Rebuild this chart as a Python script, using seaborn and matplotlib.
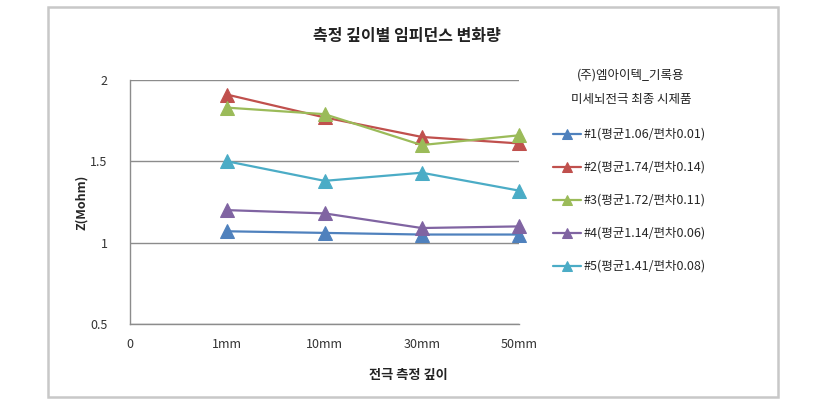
import pandas as pd
import matplotlib.pyplot as plt
import seaborn as sns
from matplotlib.patches import Rectangle

# 측정 깊이별 임피던스 데이터
depths = ['1mm', '10mm', '30mm', '50mm']
tick_labels = ['0', '1mm', '10mm', '30mm', '50mm']
series_names = ['#1(평균1.06/편차0.01)', '#2(평균1.74/편차0.14)', '#3(평균1.72/편차0.11)',
                '#4(평균1.14/편차0.06)', '#5(평균1.41/편차0.08)']
s1 = [1.07, 1.06, 1.05, 1.05]
s2 = [1.91, 1.77, 1.65, 1.61]
s3 = [1.83, 1.79, 1.60, 1.66]
s4 = [1.20, 1.18, 1.09, 1.10]
s5 = [1.50, 1.38, 1.43, 1.32]
colors = ['#4F81BD', '#C0504D', '#9BBB59', '#8064A2', '#4BACC6']

rows = []
for name, vals in zip(series_names, [s1, s2, s3, s4, s5]):
    for i, v in enumerate(vals):
        rows.append({'pos': i + 1, 'depth': depths[i], 'Z': v, 'series': name})
df = pd.DataFrame(rows)

sns.set_style('white')
plt.rcParams['font.family'] = ['Noto Sans CJK KR', 'DejaVu Sans']

fig = plt.figure(figsize=(8.27, 4.15), dpi=100)
ax = fig.add_axes([130 / 827, 1 - 324 / 415, (519 - 130) / 827, (324 - 80) / 415])

sns.lineplot(data=df, x='pos', y='Z', hue='series', palette=colors,
             marker='^', markersize=10, markeredgecolor=None, linewidth=1.6,
             ax=ax, legend=True)
for ln in ax.lines:
    ln.set_clip_on(False)

ax.set_xlim(0, 4)
ax.set_ylim(0.5, 2)
ax.set_xticks(range(5))
ax.set_xticklabels(tick_labels, fontsize=9, color='#333333')
ax.set_yticks([0.5, 1, 1.5, 2])
ax.set_yticklabels(['0.5', '1', '1.5', '2'], fontsize=9, color='#333333')
ax.tick_params(axis='both', length=0)
ax.tick_params(axis='y', pad=16)
ax.tick_params(axis='x', pad=10)
ax.yaxis.grid(True, color='#8C8C8C', linewidth=1)
ax.set_axisbelow(True)
for side in ['top', 'right']:
    ax.spines[side].set_visible(False)
for side in ['left', 'bottom']:
    ax.spines[side].set_color('#8C8C8C')
    ax.spines[side].set_linewidth(1)
ax.set_xlabel('')
ax.set_ylabel('Z(Mohm)', fontsize=9, fontweight='bold', labelpad=2)

# 범례
handles, labels = ax.get_legend_handles_labels()
ax.get_legend().remove()
leg = fig.legend(handles, labels, loc='upper left',
                 bbox_to_anchor=(548 / 827, 1 - 123 / 415), frameon=False,
                 fontsize=9, handlelength=2.2, handletextpad=0.2,
                 labelspacing=1.6, borderaxespad=0)
for h in leg.legend_handles:
    h.set_markersize(7)

fig.text(631 / 827, 1 - 75 / 415, '(주)엠아이텍_기록용', ha='center', va='center',
         fontsize=9, color='#222222')
fig.text(631 / 827, 1 - 100 / 415, '미세뇌전극 최종 시제품', ha='center', va='center',
         fontsize=9, color='#222222')

fig.text(407 / 827, 1 - 36 / 415, '측정 깊이별 임피던스 변화량', ha='center', va='center',
         fontsize=11.5, fontweight='bold', color='#222222')
fig.text(408 / 827, 1 - 375 / 415, '전극 측정 깊이', ha='center', va='center',
         fontsize=9.5, fontweight='bold', color='#222222')

# 차트 외곽 테두리
fig.patches.append(Rectangle((48 / 827, 1 - 397 / 415), (778 - 48) / 827, (397 - 7) / 415,
                             transform=fig.transFigure, fill=False,
                             edgecolor='#C8C8C8', linewidth=1.8))

fig.savefig('out.png', dpi=100)
